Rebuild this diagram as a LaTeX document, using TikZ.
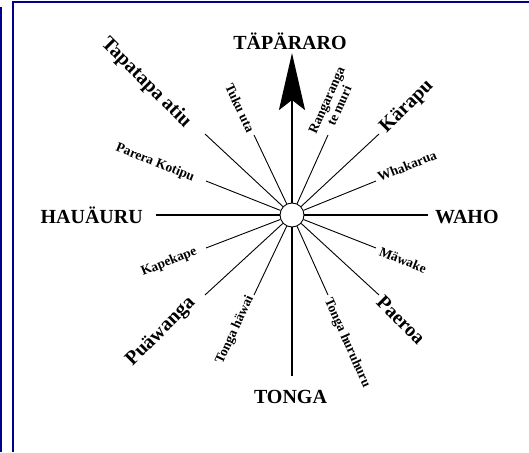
\documentclass[tikz,border=0pt]{standalone}
\usepackage{fontspec}
\setmainfont{Liberation Serif}
\definecolor{framenavy}{RGB}{0,0,140}
\usetikzlibrary{arrows.meta}

\begin{document}
\begin{tikzpicture}[x=1pt, y=1pt,
  hub/.style={draw, circle, fill=white, minimum size=24pt,
    inner sep=0pt, line width=0.9pt},
  cardinal/.style={font=\fontsize{20}{24}\selectfont\bfseries, inner sep=2pt},
  major/.style={font=\fontsize{20}{24}\selectfont\bfseries, inner sep=0pt},
  minor/.style={font=\fontsize{13.5}{14}\selectfont\bfseries, inner sep=0pt,
    align=center},
  axis/.style={line width=2.6pt},
  ray/.style={line width=0.9pt},
  edge/.style={framenavy, line width=2.5pt},
]
\useasboundingbox (-292,-237) rectangle (237,215);

% Frame
\draw[edge] (-291,208) -- (-291,-237);
\draw[edge] (-279,-237) -- (-279,213) -- (237,213);

% Centre
\node[hub] (hub) at (0,0) {};

% Axis ends
\coordinate (ntip) at (0,162);
\coordinate (send) at (0,-161);
\coordinate (wend) at (-136,0);
\coordinate (eend) at (136,0);

% Ray ends
\coordinate (tapatapa) at (-87,81);
\coordinate (tuku) at (-38,80);
\coordinate (ranga) at (36,80);
\coordinate (karapu) at (87,81);
\coordinate (parera) at (-86,34);
\coordinate (whakarua) at (84,34);
\coordinate (kapekape) at (-86,-33);
\coordinate (mawake) at (84,-33);
\coordinate (puawanga) at (-87,-80);
\coordinate (hawai) at (-38,-80);
\coordinate (huruhuru) at (36,-80);
\coordinate (paeroa) at (87,-80);

% Axes
\draw[axis, -{Stealth[length=57pt, width=26pt, inset=10pt]}] (hub) -- (ntip);
\draw[axis] (hub) -- (send);
\draw[axis] (hub) -- (wend);
\draw[axis] (hub) -- (eend);

% Rays
\draw[ray] (hub) -- (tapatapa);
\draw[ray] (hub) -- (tuku);
\draw[ray] (hub) -- (ranga);
\draw[ray] (hub) -- (karapu);
\draw[ray] (hub) -- (parera);
\draw[ray] (hub) -- (whakarua);
\draw[ray] (hub) -- (kapekape);
\draw[ray] (hub) -- (mawake);
\draw[ray] (hub) -- (puawanga);
\draw[ray] (hub) -- (hawai);
\draw[ray] (hub) -- (huruhuru);
\draw[ray] (hub) -- (paeroa);

% Cardinal labels
\node[cardinal, anchor=base] (north) at (-2,165) {TÄPÄRARO};
\node[cardinal, anchor=base east] (west) at (-147,-8) {HAUÄURU};
\node[cardinal, anchor=base west] (east) at (141,-8) {WAHO};
\node[cardinal, anchor=base] (south) at (-1.5,-188) {TONGA};

% Ray labels
\node[major, rotate=-45] (tapatapa-l) at (-146,132) {Tapatapa atiu};
\node[major, rotate=45] (karapu-l) at (115,108) {Kärapu};
\node[major, rotate=45] (puawanga-l) at (-131,-117) {Puäwanga};
\node[major, rotate=-45] (paeroa-l) at (109,-105) {Paeroa};
\node[minor, rotate=-65] (tuku-l) at (-52,107) {Tuku uta};
\node[minor, rotate=66] (ranga-l) at (41,112) {Rangaranga\\te muri};
\node[minor, rotate=-22] (parera-l) at (-137,52) {Parera Kotipu};
\node[minor, rotate=22] (whakarua-l) at (115,49) {Whakarua};
\node[minor, rotate=22] (kapekape-l) at (-123,-47) {Kapekape};
\node[minor, rotate=-22] (mawake-l) at (111,-45) {Mäwake};
\node[minor, rotate=65] (hawai-l) at (-57,-115) {Tonga häwai};
\node[minor, rotate=-66] (huruhuru-l) at (55,-128) {Tonga huruhuru};
\end{tikzpicture}
\end{document}
